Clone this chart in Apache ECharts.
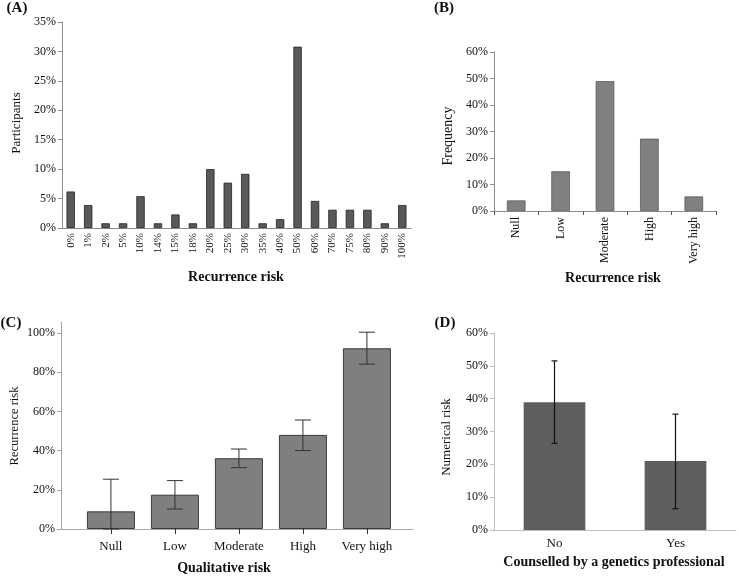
<!DOCTYPE html>
<html>
<head>
<meta charset="utf-8">
<script src="https://cdn.jsdelivr.net/npm/echarts@6/dist/echarts.min.js"></script>
<style>
    html, body { margin: 0; padding: 0; background: #fff; }
    #main { width: 739px; height: 576px; }
</style>
</head>
<body>
<div id="main"></div>
<script>
(function() {
    // (A) stated numerical risk
    var riskLabels = ['0%', '1%', '2%', '5%', '10%', '14%', '15%', '18%', '20%', '25%',
        '30%', '35%', '40%', '50%', '60%', '70%', '75%', '80%', '90%', '100%'];
    var participants = [6.2, 3.9, 0.8, 0.8, 5.4, 0.8, 2.3, 0.8, 10.0, 7.7,
        9.2, 0.8, 1.5, 30.8, 4.6, 3.1, 3.1, 3.1, 0.8, 3.9];

    // (B) qualitative risk frequency
    var qualCats = ['Null', 'Low', 'Moderate', 'High', 'Very high'];
    var frequency = [4.0, 15.0, 49.0, 27.3, 5.5];

    // (C) numerical risk by qualitative risk, with error bars
    var qualMean = [9.0, 17.5, 36.1, 48.0, 92.2];
    var qualLow = [0, 10.2, 31.3, 40.0, 84.1];
    var qualHigh = [25.4, 24.7, 40.8, 55.6, 100.4];
    var qualTicks = [0, 20, 40, 60, 80, 100];

    // (D) counselled by a genetics professional
    var counselCats = ['No', 'Yes'];
    var counselMean = [38.9, 21.0];
    var counselLow = [26.4, 6.5];
    var counselHigh = [51.5, 35.3];

    var serif = '"Liberation Serif", "Times New Roman", serif';
    var textColor = '#111';

    function pct(v) { return v + '%'; }

    function errorBar(cap, color, width) {
        return function(params, api) {
            var x = api.value(0);
            var lo = api.coord([x, api.value(1)]);
            var hi = api.coord([x, api.value(2)]);
            var st = { stroke: color, lineWidth: width };
            return {
                type: 'group',
                children: [
                    { type: 'line', shape: { x1: lo[0], y1: lo[1], x2: hi[0], y2: hi[1] }, style: st },
                    { type: 'line', shape: { x1: hi[0] - cap, y1: hi[1], x2: hi[0] + cap, y2: hi[1] }, style: st },
                    { type: 'line', shape: { x1: lo[0] - cap, y1: lo[1], x2: lo[0] + cap, y2: lo[1] }, style: st }
                ]
            };
        };
    }

    function label(text, x, y, size, bold, rotate) {
        return {
            type: 'text',
            x: x,
            y: y,
            rotation: rotate ? Math.PI / 2 : 0,
            style: {
                text: text,
                font: (bold ? 'bold ' : '') + size + 'px ' + serif,
                fill: textColor,
                textAlign: 'center',
                textVerticalAlign: 'middle'
            }
        };
    }

    function yAxisBase(idx, max, interval, lineColor) {
        return {
            type: 'value',
            gridIndex: idx,
            min: 0,
            max: max,
            interval: interval,
            axisLine: { show: true, onZero: false, lineStyle: { color: lineColor, width: 1 } },
            axisTick: { show: true, length: 4, lineStyle: { color: lineColor } },
            splitLine: { show: false },
            axisLabel: { formatter: pct, color: textColor, fontFamily: serif, fontSize: 12, margin: 6 }
        };
    }

    var chart = echarts.init(document.getElementById('main'));

    var yC = yAxisBase(2, 105.6, null, '#a6a6a6');
    delete yC.interval;
    yC.axisLabel.customValues = qualTicks;
    yC.axisTick.customValues = qualTicks;

    chart.setOption({
        animation: false,
        backgroundColor: '#fff',
        grid: [
            { left: 62, top: 22, width: 349, height: 206 },
            { left: 494, top: 52, width: 222, height: 159 },
            { left: 61, top: 322, width: 352, height: 207 },
            { left: 494, top: 333, width: 242, height: 197 }
        ],
        xAxis: [{
            type: 'category',
            gridIndex: 0,
            data: riskLabels,
            axisLine: { lineStyle: { color: '#8c8c8c' } },
            axisTick: { show: false },
            axisLabel: { rotate: 90, interval: 0, color: textColor, fontFamily: serif, fontSize: 11, margin: 5 }
        }, {
            type: 'category',
            gridIndex: 1,
            data: qualCats,
            axisLine: { lineStyle: { color: '#8c8c8c' } },
            axisTick: { show: true, length: 4, lineStyle: { color: '#555' } },
            axisLabel: { rotate: 90, interval: 0, color: textColor, fontFamily: serif, fontSize: 12, margin: 6 }
        }, {
            // value axis so the line runs past the outer categories, as in the original
            type: 'value',
            gridIndex: 2,
            min: -0.78,
            max: 4.72,
            splitLine: { show: false },
            axisLine: { show: true, onZero: false, lineStyle: { color: '#a6a6a6' } },
            axisTick: { show: true, length: 5, customValues: [0, 1, 2, 3, 4], lineStyle: { color: '#333' } },
            axisLabel: {
                customValues: [0, 1, 2, 3, 4],
                formatter: function(v) { return qualCats[Math.round(v)]; },
                color: textColor, fontFamily: serif, fontSize: 13, margin: 11
            }
        }, {
            type: 'category',
            gridIndex: 3,
            data: counselCats,
            axisLine: { lineStyle: { color: '#bfbfbf' } },
            axisTick: { show: false },
            axisLabel: { color: textColor, fontFamily: serif, fontSize: 13, margin: 7 }
        }],
        yAxis: [
            yAxisBase(0, 35, 5, '#8c8c8c'),
            yAxisBase(1, 60, 10, '#8c8c8c'),
            yC,
            yAxisBase(3, 60, 10, '#bfbfbf')
        ],
        series: [{
            type: 'bar',
            xAxisIndex: 0,
            yAxisIndex: 0,
            data: participants,
            barWidth: '48%',
            itemStyle: { color: '#595959', borderColor: '#222', borderWidth: 0.8 }
        }, {
            type: 'bar',
            xAxisIndex: 1,
            yAxisIndex: 1,
            data: frequency,
            barWidth: '42%',
            itemStyle: { color: '#808080', borderColor: '#5a5a5a', borderWidth: 0.8 }
        }, {
            type: 'bar',
            xAxisIndex: 2,
            yAxisIndex: 2,
            data: qualMean.map(function(v, i) { return [i, v]; }),
            barWidth: 48,
            itemStyle: { color: '#7f7f7f', borderColor: '#3a3a3a', borderWidth: 1 }
        }, {
            type: 'custom',
            xAxisIndex: 2,
            yAxisIndex: 2,
            z: 5,
            data: qualMean.map(function(v, i) { return [i, qualLow[i], qualHigh[i]]; }),
            encode: { x: 0, y: [1, 2] },
            renderItem: errorBar(8, '#333', 1)
        }, {
            type: 'bar',
            xAxisIndex: 3,
            yAxisIndex: 3,
            data: counselMean,
            barWidth: '51%',
            itemStyle: { color: '#5e5e5e' }
        }, {
            type: 'custom',
            xAxisIndex: 3,
            yAxisIndex: 3,
            z: 5,
            data: counselMean.map(function(v, i) { return [i, counselLow[i], counselHigh[i]]; }),
            encode: { x: 0, y: [1, 2] },
            renderItem: errorBar(3, '#111', 1.2)
        }],
        graphic: [
            label('(A)', 17, 8, 15, true),
            label('Participants', 17, 123, 13, false, true),
            label('Recurrence risk', 236, 277, 14, true),
            label('(B)', 444, 8, 15, true),
            label('Frequency', 448, 136, 14, false, true),
            label('Recurrence risk', 613, 278, 14, true),
            label('(C)', 11, 323, 15, true),
            label('Recurrence risk', 15, 426, 12.5, false, true),
            label('Qualitative risk', 224, 568, 14, true),
            label('(D)', 445, 323, 15, true),
            label('Numerical risk', 447, 437, 13, false, true),
            label('Counselled by a genetics professional', 614, 562, 14, true)
        ]
    });
})();
</script>
</body>
</html>
